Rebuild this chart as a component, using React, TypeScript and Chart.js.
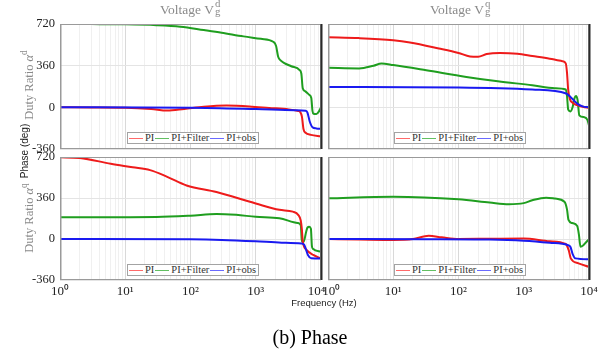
import React, { useEffect, useRef } from "react";
import { Chart, registerables } from "chart.js";

Chart.register(...registerables);

type Pt = [number, number];

const SERIES = ["PI", "PI+Filter", "PI+obs"];
const Y_TICKS = [-360, 0, 360, 720];
const X_DECADES = [1, 10, 100, 1000, 10000];
const SUP: Record<string, string> = { "0": "⁰", "1": "¹", "2": "²", "3": "³", "4": "⁴" };

// Top-left: Voltage Vg^d -> Duty ratio α^d  [frequency Hz, phase deg]
const tlPI: Pt[] = [[1, 0], [3, -1], [10, -3], [25, -14], [44, -28], [80, -14], [160, 5], [355, 15], [800, 8], [1600, -5], [3200, -18], [4500, -32], [4800, -40], [5100, -80], [5400, -190], [5800, -220], [7000, -238], [10000, -252]];
const tlFilter: Pt[] = [[1, 720], [3, 719], [10, 717], [30, 710], [70, 697], [160, 668], [300, 645], [650, 613], [1200, 592], [1850, 567], [2050, 530], [2200, 440], [2400, 405], [2700, 385], [3500, 355], [4700, 322], [5000, 290], [5250, 165], [5700, 140], [6600, 108], [7100, 80], [7400, -30], [7700, -55], [8500, -58], [9300, -35], [10000, 0]];
const tlObs: Pt[] = [[1, 0], [100, -3], [1000, -15], [4000, -25], [5800, -30], [6200, -45], [6700, -120], [7400, -172], [8500, -182], [10000, -185]];

// Top-right: Voltage Vg^q -> Duty ratio α^d
const trPI: Pt[] = [[1, 605], [3, 598], [10, 580], [18, 561], [50, 509], [100, 470], [150, 440], [200, 438], [270, 460], [430, 469], [800, 462], [1350, 443], [2500, 420], [3900, 399], [4400, 380], [4600, 300], [4800, 150], [5100, 70], [5600, 40], [6500, 20], [8000, 5], [10000, -5]];
const trFilter: Pt[] = [[1, 341], [3, 336], [5, 360], [6.6, 379], [10, 365], [32, 320], [132, 263], [400, 225], [1350, 191], [3000, 165], [4400, 154], [4600, 100], [4800, -20], [5200, -35], [5600, 0], [6000, 80], [6300, 98], [6700, 60], [7100, -69], [8500, -85], [9500, -110], [10000, -156]];
const trObs: Pt[] = [[1, 176], [100, 172], [1350, 154], [4470, 119], [5200, 90], [6600, 32], [8000, 8], [10000, 0]];

// Bottom-left: Voltage Vg^d -> Duty ratio α^q
const blPI: Pt[] = [[1, 717], [2, 712], [6, 660], [13, 630], [24, 605], [44, 546], [87, 470], [250, 412], [1000, 312], [2300, 256], [3700, 240], [4500, 210], [4900, 160], [5100, 80], [5250, -20], [6000, -95], [7600, -140], [10000, -170]];
const blFilter: Pt[] = [[1, 190], [10, 192], [30, 193], [100, 205], [250, 220], [500, 212], [1000, 195], [2300, 182], [4400, 140], [4900, 120], [5050, 0], [5150, -24], [5450, -22], [5900, 60], [6200, 100], [6600, 108], [7000, 90], [7250, -60], [7500, -85], [10000, -110]];
const blObs: Pt[] = [[1, 0], [100, -3], [300, -8], [1000, -20], [2500, -32], [5000, -40], [5500, -50], [6300, -140], [7100, -170], [10000, -172]];

// Bottom-right: Voltage Vg^q -> Duty ratio α^q
const brPI: Pt[] = [[1, 0], [3, -4], [10, -8], [20, 0], [35, 28], [55, 15], [100, 0], [300, 2], [1000, 4], [2500, -20], [4400, -44], [4900, -100], [5250, -170], [6900, -214], [10000, -245]];
const brFilter: Pt[] = [[1, 357], [10, 371], [100, 348], [300, 320], [590, 305], [1000, 315], [1350, 340], [2200, 363], [3000, 355], [4200, 327], [4600, 260], [4850, 167], [5500, 140], [6600, 114], [7000, 40], [7400, -68], [8200, -55], [9300, -20], [10000, -3]];
const brObs: Pt[] = [[1, 0], [30, -2], [300, -5], [1000, -15], [2500, -33], [4700, -53], [5200, -70], [5600, -130], [6200, -170], [10000, -178]];

const COLORS = ["#ee1b1b", "#1f9e1f", "#1a1af0"];
const LEGEND_COLORS = ["#ff6a6a", "#62c062", "#6a6aff"];
const ORDER = [1, 2, 0];

const GRID_X: number[] = (() => {
  const out: number[] = [];
  for (let i = 0; i < X_DECADES.length - 1; i++) {
    for (let k = 1; k <= 9; k++) out.push(k * X_DECADES[i]);
  }
  out.push(X_DECADES[X_DECADES.length - 1]);
  return out;
})();

function isDecade(v: number | undefined) {
  if (!v || v <= 0) return false;
  const l = Math.log10(v);
  return Math.abs(l - Math.round(l)) < 1e-9;
}

const boxPlugin = {
  id: "panelBox",
  afterDraw(chart: any) {
    const { ctx, chartArea: a } = chart;
    ctx.save();
    ctx.strokeStyle = "#9a9a9a";
    ctx.lineWidth = 1;
    ctx.strokeRect(a.left + 0.5, a.top + 0.5, a.right - a.left - 1, a.bottom - a.top - 1);
    ctx.lineWidth = 1.5;
    ctx.beginPath();
    ctx.moveTo(a.left + 0.75, a.top);
    ctx.lineTo(a.left + 0.75, a.bottom);
    ctx.stroke();
    ctx.strokeStyle = "#2a2a2a";
    ctx.lineWidth = 2;
    ctx.beginPath();
    ctx.moveTo(a.right + 0.5, a.top);
    ctx.lineTo(a.right + 0.5, a.bottom);
    ctx.stroke();
    ctx.restore();
  },
};

type Box = { left: number; top: number; w: number; h: number };
type Area = { l: number; r: number; t: number; b: number };

function Panel(props: { box: Box; area: Area; data: Pt[][]; xLabels: boolean; yLabels: boolean; shift: "none" | "lastLeft" | "firstRight" }) {
  const { box, area, data, xLabels, yLabels, shift } = props;
  const ref = useRef<HTMLCanvasElement>(null);
  useEffect(() => {
    const canvas = ref.current!;
    const yw = area.l - box.left;
    const xh = box.top + box.h - area.b;
    const chart = new Chart(canvas, {
      type: "line",
      data: {
        datasets: data.map((s, i) => ({
          label: SERIES[i],
          data: s.map(([x, y]) => ({ x, y })),
          borderColor: COLORS[i],
          backgroundColor: COLORS[i],
          borderWidth: 2,
          pointRadius: 0,
          cubicInterpolationMode: "monotone" as const,
          fill: false,
          order: ORDER[i],
        })),
      },
      options: {
        responsive: false,
        animation: false,
        events: [],
        layout: { padding: { left: 0, top: area.t - box.top, right: box.left + box.w - area.r, bottom: 0 } },
        plugins: { legend: { display: false }, tooltip: { enabled: false }, title: { display: false } },
        scales: {
          x: {
            type: "logarithmic",
            min: 1,
            max: 10000,
            afterBuildTicks: (s: any) => {
              s.ticks = GRID_X.map((v) => ({ value: v }));
            },
            afterFit: (s: any) => {
              s.height = xh;
            },
            grid: {
              color: (c: any) => (isDecade(c.tick && c.tick.value) ? "#d9d9d9" : "#f0f0f0"),
              drawTicks: false,
              lineWidth: 1,
            },
            border: { display: false },
            ticks: {
              display: xLabels,
              autoSkip: false,
              maxRotation: 0,
              minRotation: 0,
              padding: 4,
              color: "#222",
              font: { family: "'Liberation Serif', serif", size: 13 },
              callback: (v: any) => {
                const n = Number(v);
                if (!isDecade(n)) return "";
                const e = String(Math.round(Math.log10(n)));
                let s = "10" + e.split("").map((c) => SUP[c]).join("");
                if (shift === "lastLeft" && n === 10000) s = s + "\u2002\u2009";
                if (shift === "firstRight" && n === 1) s = "\u2002" + s;
                return s;
              },
            },
          },
          y: {
            type: "linear",
            min: -360,
            max: 720,
            afterBuildTicks: (s: any) => {
              s.ticks = Y_TICKS.map((v) => ({ value: v }));
            },
            afterFit: (s: any) => {
              s.width = yw;
            },
            grid: { color: "#e4e4e4", drawTicks: false },
            border: { display: false },
            ticks: {
              display: yLabels,
              padding: 5,
              color: "#222",
              font: { family: "'Liberation Serif', serif", size: 12.5 },
              callback: (v: any) => String(v),
            },
          },
        },
      } as any,
      plugins: [boxPlugin],
    });
    return () => chart.destroy();
  }, []);
  return (
    <canvas
      ref={ref}
      width={box.w}
      height={box.h}
      style={{ position: "absolute", left: box.left, top: box.top, width: box.w, height: box.h }}
    />
  );
}

function SubSup({ sup, sub }: { sup: string; sub: string }) {
  return (
    <span style={{ display: "inline-block", position: "relative", width: "0.6em", height: "1em" }}>
      <span style={{ position: "absolute", left: 1, top: "-0.2em", fontSize: "0.8em", lineHeight: 1 }}>{sup}</span>
      <span style={{ position: "absolute", left: 1, top: "0.6em", fontSize: "0.8em", lineHeight: 1 }}>{sub}</span>
    </span>
  );
}

function Legend({ left, top }: { left: number; top: number }) {
  return (
    <div
      style={{
        position: "absolute",
        left,
        top,
        height: 12,
        boxSizing: "border-box",
        border: "1px solid #a3a3a3",
        background: "#fff",
        display: "flex",
        alignItems: "center",
        padding: "0 2px 0 1px",
        fontFamily: "'Liberation Serif', serif",
        fontSize: 10.5,
        lineHeight: "10px",
        color: "#333",
        whiteSpace: "nowrap",
      }}
    >
      {SERIES.map((n, i) => (
        <React.Fragment key={n}>
          <span style={{ display: "inline-block", width: 14, height: 0, borderTop: `1px solid ${LEGEND_COLORS[i]}`, marginRight: 2 }} />
          <span style={{ marginRight: i < 2 ? 1 : 0 }}>{n}</span>
        </React.Fragment>
      ))}
    </div>
  );
}

const centered = (x: number, y: number): React.CSSProperties => ({
  position: "absolute",
  left: x,
  top: y,
  transform: "translate(-50%, -50%)",
  whiteSpace: "nowrap",
});

const rotated = (x: number, y: number): React.CSSProperties => ({
  position: "absolute",
  left: x,
  top: y,
  transform: "translate(-50%, -50%) rotate(-90deg)",
  whiteSpace: "nowrap",
});

export default function App() {
  const serif = "'Liberation Serif', serif";
  const sans = "'Liberation Sans', Arial, sans-serif";
  return (
    <div style={{ position: "fixed", left: 0, top: 0, width: 610, height: 353, background: "#fff", overflow: "hidden" }}>
      <Panel box={{ left: 0, top: 0, w: 330, h: 165 }} area={{ l: 60, r: 321, t: 24, b: 149 }} data={[tlPI, tlFilter, tlObs]} xLabels={false} yLabels={true} shift="none" />
      <Panel box={{ left: 300, top: 0, w: 310, h: 165 }} area={{ l: 328, r: 589, t: 24, b: 149 }} data={[trPI, trFilter, trObs]} xLabels={false} yLabels={false} shift="none" />
      <Panel box={{ left: 0, top: 140, w: 340, h: 170 }} area={{ l: 60, r: 321, t: 157, b: 280 }} data={[blPI, blFilter, blObs]} xLabels={true} yLabels={true} shift="lastLeft" />
      <Panel box={{ left: 300, top: 140, w: 310, h: 170 }} area={{ l: 328, r: 589, t: 157, b: 280 }} data={[brPI, brFilter, brObs]} xLabels={true} yLabels={false} shift="firstRight" />

      <Legend left={127} top={132} />
      <Legend left={394} top={132} />
      <Legend left={127} top={264} />
      <Legend left={394} top={264} />

      <div style={{ ...centered(191, 9), fontFamily: serif, fontSize: 13.5, color: "#8a8a8a" }}>
        Voltage V<SubSup sup="d" sub="g" />
      </div>
      <div style={{ ...centered(461, 9), fontFamily: serif, fontSize: 13.5, color: "#8a8a8a" }}>
        Voltage V<SubSup sup="q" sub="g" />
      </div>

      <div style={{ ...rotated(28, 85), fontFamily: serif, fontSize: 12.5, color: "#8a8a8a" }}>
        Duty Ratio <i>α</i>
        <sup style={{ fontSize: "0.75em" }}>d</sup>
      </div>
      <div style={{ ...rotated(28, 218), fontFamily: serif, fontSize: 12.5, color: "#8a8a8a" }}>
        Duty Ratio <i>α</i>
        <sup style={{ fontSize: "0.75em" }}>q</sup>
      </div>

      <div style={{ ...rotated(24, 151), fontFamily: sans, fontSize: 10, color: "#222" }}>Phase (deg)</div>
      <div style={{ ...centered(324, 302), fontFamily: sans, fontSize: 9.5, color: "#222" }}>Frequency (Hz)</div>
      <div style={{ ...centered(310, 337), fontFamily: serif, fontSize: 20, color: "#000" }}>(b) Phase</div>
    </div>
  );
}
